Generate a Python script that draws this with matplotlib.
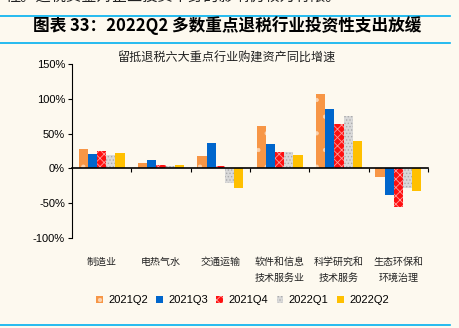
import numpy as np
import matplotlib.pyplot as plt
from matplotlib.lines import Line2D
from matplotlib.transforms import blended_transform_factory

plt.rcParams['font.family'] = ['Liberation Sans', 'Noto Sans CJK SC', 'DejaVu Sans']
plt.rcParams['hatch.linewidth'] = 0.6

# 留抵退税六大重点行业购建资产同比增速 (%)
industries = ['制造业', '电热气水', '交通运输', '软件和信息\n技术服务业', '科学研究和\n技术服务', '生态环保和\n环境治理']
quarters = ['2021Q2', '2021Q3', '2021Q4', '2022Q1', '2022Q2']
q2_2021 = [28, 7.5, 17.5, 61, 107.5, -12]
q3_2021 = [21, 12.5, 36, 34.5, 86, -37.5]
q4_2021 = [24.5, 4.5, 3.5, 24, 64.5, -55]
q1_2022 = [19.5, 4, -21.5, 23.5, 75, -27.5]
q2_2022 = [22.5, 4.5, -28.5, 19, 39.5, -33]
series = [q2_2021, q3_2021, q4_2021, q1_2022, q2_2022]

colors = ['#F79646', '#0066CC', '#FF1010', '#D9D9D9', '#FFC000']
hatch_colors = ['#FBD3B0', '#0066CC', '#FF9A9A', '#ABABAB', '#FFC000']
hatches = ['.', None, 'xxxx', '.....', None]

bg = '#FDF9EF'
fig = plt.figure(figsize=(4.6, 3.28), dpi=100, facecolor=bg)
ax = fig.add_axes([0.1565, 0.274, 0.774, 0.531], facecolor=bg)

# page text above the figure caption (cut off at the top)
fig.text(0.012, 1.012, '性。退税资金对企业投资本身的影响仍较为有限。', fontsize=11,
         family=['Noto Sans CJK SC'], color='#222222', va='center', ha='left')
for y in [1 - 16 / 328, 1 - 43 / 328, 1 - 325 / 328]:
    fig.add_artist(Line2D([0, 450 / 460], [y, y], color='#00B0F0', lw=1.2))
fig.text(0.072, 1 - 26 / 328, '图表 33：2022Q2 多数重点退税行业投资性支出放缓', fontsize=12,
         fontweight='bold', fontstyle='italic', family=['Noto Sans CJK SC'], va='center', ha='left')

x = np.arange(len(industries)) + 0.5
w = 0.155
for k, vals in enumerate(series):
    ax.bar(x + (k - 2) * w, vals, w, color=colors[k], edgecolor=hatch_colors[k],
           hatch=hatches[k], linewidth=0, label=quarters[k], zorder=2)

ax.set_xlim(0, len(industries))
ax.set_ylim(-100, 150)
ax.set_yticks(np.arange(-100, 151, 50))
ax.set_yticklabels([f'{v}%' for v in range(-100, 151, 50)], fontsize=8)
ax.tick_params(axis='y', length=3, width=0.8, pad=2)

for s in ['top', 'right']:
    ax.spines[s].set_visible(False)
ax.spines['left'].set_linewidth(0.8)
ax.spines['bottom'].set_position(('data', 0))
ax.spines['bottom'].set_linewidth(1.2)
ax.spines['bottom'].set_zorder(3)
ax.set_xticks(np.arange(1, len(industries) + 1))
ax.tick_params(axis='x', length=3, width=0.8, labelbottom=False, direction='out')

trans = blended_transform_factory(ax.transData, fig.transFigure)
for xi, name in zip(x, industries):
    ax.text(xi, 1 - 257 / 328, name, transform=trans, fontsize=7.2, ha='center', va='top',
            family=['Noto Sans CJK SC'], linespacing=1.7, color='#222222')

ax.text(0.492, 1 - 58 / 328, '留抵退税六大重点行业购建资产同比增速', transform=fig.transFigure,
        fontsize=8.7, ha='center', va='center', family=['Noto Sans CJK SC'], color='#222222')

fig.legend(loc='center', bbox_to_anchor=(0.527, 1 - 300 / 328), ncol=5, frameon=False,
           fontsize=8, handlelength=0.6, handleheight=0.6, handletextpad=0.5, columnspacing=0.75)

fig.savefig('out.png', dpi=100, facecolor=bg)
